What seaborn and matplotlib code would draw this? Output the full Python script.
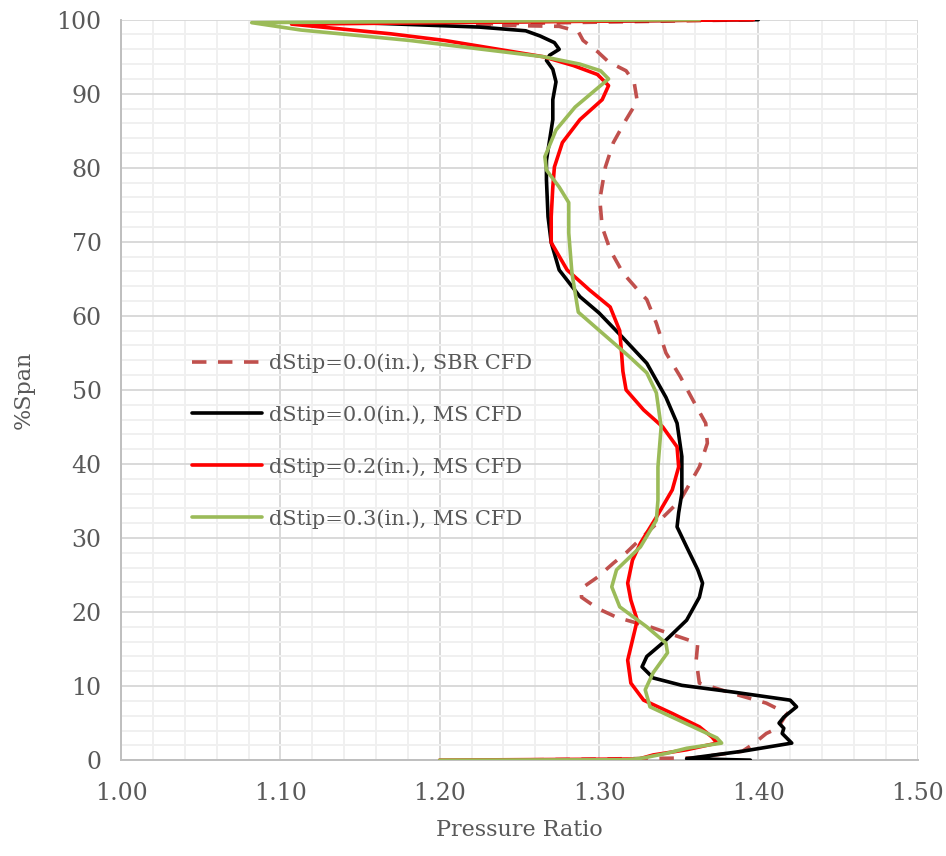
import numpy as np
import pandas as pd
import seaborn as sns
import matplotlib.pyplot as plt
from matplotlib.ticker import MultipleLocator

# Pressure ratio (x) vs %span (y)
sbr_x = [1.24, 1.36, 1.39, 1.397, 1.405, 1.412, 1.418, 1.405, 1.384, 1.363, 1.361, 1.362, 1.351,
         1.332, 1.311, 1.299, 1.289, 1.289, 1.299, 1.309, 1.317, 1.334, 1.351, 1.363, 1.368, 1.367,
         1.359, 1.351, 1.342, 1.336, 1.330, 1.326, 1.315, 1.307, 1.302, 1.3005, 1.304, 1.309, 1.317,
         1.324, 1.322, 1.317, 1.306, 1.299, 1.290, 1.287, 1.275, 1.248, 1.22, 1.40]
sbr_y = [0, 0.3, 1.2, 2.2, 3.6, 4.3, 6.3, 7.7, 9.0, 10.4, 13.5, 15.8, 16.6,
         18, 19.3, 20.5, 22, 23.2, 24.7, 26.6, 28, 31.5, 35.1, 39.6, 42.8, 45.5,
         48.6, 51.8, 55, 59, 62.2, 63.1, 65.8, 68.9, 72, 75.7, 80.1, 83.4, 86.5,
         89, 91.6, 93.1, 94.3, 95.7, 97.2, 98.4, 99.1, 99.2, 99.4, 100]

ms00_x = [1.395, 1.355, 1.39, 1.421, 1.415, 1.416, 1.413, 1.416, 1.424, 1.420, 1.384, 1.352, 1.334,
          1.327, 1.330, 1.342, 1.355, 1.363, 1.365, 1.362, 1.355, 1.349, 1.350, 1.352, 1.352, 1.349,
          1.342, 1.330, 1.313, 1.300, 1.288, 1.275, 1.270, 1.268, 1.267, 1.267, 1.271, 1.271, 1.273,
          1.271, 1.267, 1.269, 1.275, 1.272, 1.263, 1.254, 1.225, 1.15, 1.40]
ms00_y = [0, 0.2, 1.2, 2.3, 3.6, 4.3, 5.0, 5.8, 7.2, 8.1, 9.2, 10.1, 11.1,
          12.6, 14.0, 16.2, 18.9, 22, 23.9, 25.7, 28.8, 31.5, 33.4, 36, 41, 45.5,
          49, 53.6, 57.5, 60.4, 62.6, 66.2, 69.9, 73.4, 78.4, 81, 86.5, 89.2, 91.6,
          93.3, 94.5, 95.2, 96, 96.9, 97.8, 98.5, 99, 99.6, 100]

ms02_x = [1.20, 1.325, 1.334, 1.355, 1.374, 1.371, 1.363, 1.346, 1.328, 1.320, 1.318, 1.321, 1.324,
          1.320, 1.318, 1.321, 1.326, 1.336, 1.346, 1.350, 1.349, 1.340, 1.328, 1.317, 1.315, 1.314,
          1.313, 1.307, 1.294, 1.280, 1.270, 1.270, 1.271, 1.272, 1.277, 1.288, 1.302, 1.306, 1.299,
          1.284, 1.265, 1.203, 1.169, 1.107, 1.397]
ms02_y = [0, 0.15, 0.7, 1.4, 2.3, 3.1, 4.5, 6.3, 8.1, 10.4, 13.5, 16.2, 18.9,
          21.6, 23.9, 27, 29.3, 32.8, 36.5, 39.6, 42.3, 45, 47.3, 50, 52.5, 55.4,
          58, 61.2, 63.5, 66.2, 69.9, 73.4, 77.4, 80.1, 83.4, 86.5, 89.2, 91.1, 92.6,
          93.8, 95, 97.2, 98.1, 99.4, 100]

ms03_x = [1.20, 1.318, 1.328, 1.342, 1.355, 1.377, 1.374, 1.363, 1.346, 1.332, 1.329, 1.334, 1.343,
          1.342, 1.330, 1.313, 1.308, 1.311, 1.326, 1.336, 1.337, 1.337, 1.339, 1.336, 1.330, 1.319,
          1.303, 1.287, 1.283, 1.281, 1.281, 1.275, 1.267, 1.266, 1.273, 1.285, 1.301, 1.306, 1.301,
          1.288, 1.265, 1.181, 1.113, 1.082, 1.363]
ms03_y = [0, 0.05, 0.3, 0.9, 1.6, 2.3, 3.0, 4.1, 5.8, 7.2, 9.5, 11.8, 14.5,
          15.8, 18, 20.7, 23.4, 25.7, 28.8, 32.4, 35.1, 39.6, 45, 49.6, 52.3, 54.5,
          57.5, 60.5, 65.8, 71.2, 75.3, 77.4, 79.7, 81.5, 85.1, 88.2, 91.1, 92, 93.1,
          94, 95, 97.2, 98.6, 99.6, 100]

labels = ["dStip=0.0(in.), SBR CFD", "dStip=0.0(in.), MS CFD",
          "dStip=0.2(in.), MS CFD", "dStip=0.3(in.), MS CFD"]
colors = ["#c0504d", "black", "#ff0000", "#9bbb59"]
styles = [(0, (4, 3.2)), "-", "-", "-"]

series = [(sbr_x, sbr_y), (ms00_x, ms00_y), (ms02_x, ms02_y), (ms03_x, ms03_y)]

sns.set_style("white")
plt.rcParams['font.family'] = ['DejaVu Serif']
txt = "#595959"

fig, ax = plt.subplots(figsize=(9.46, 8.56), dpi=100)
fig.subplots_adjust(left=0.128, right=0.970, top=0.977, bottom=0.112)

for (xs, ys), lab, col, ls in zip(series, labels, colors, styles):
    df = pd.DataFrame({"Pressure Ratio": xs, "%Span": ys})
    sns.lineplot(data=df, x="Pressure Ratio", y="%Span", sort=False, estimator=None,
                 color=col, linewidth=2.6, linestyle=ls, label=lab, ax=ax, zorder=3,
                 solid_joinstyle="round", dash_joinstyle="round")

ax.set_xlim(1.0, 1.5)
ax.set_ylim(0, 100)
ax.xaxis.set_major_locator(MultipleLocator(0.1))
ax.xaxis.set_minor_locator(MultipleLocator(0.02))
ax.yaxis.set_major_locator(MultipleLocator(10))
ax.yaxis.set_minor_locator(MultipleLocator(2))
ax.set_xticks(np.arange(1.0, 1.51, 0.1))
ax.set_xticklabels([f"{v:.2f}" for v in np.arange(1.0, 1.51, 0.1)])

ax.grid(which="major", color="#d9d9d9", linewidth=1.4, zorder=0)
ax.grid(which="minor", color="#f0f0f0", linewidth=1.4, zorder=0)
ax.set_axisbelow(True)

for s in ["top", "right"]:
    ax.spines[s].set_visible(False)
for s in ["left", "bottom"]:
    ax.spines[s].set_color("#bfbfbf")
    ax.spines[s].set_linewidth(1.4)

ax.tick_params(which="both", length=0, colors=txt, labelsize=17)
ax.tick_params(axis="y", pad=14)
ax.tick_params(axis="x", pad=16)
ax.set_xlabel("Pressure Ratio", fontsize=16, color=txt, labelpad=10)
ax.set_ylabel("%Span", fontsize=16, color=txt, labelpad=16)

leg = ax.legend(loc="upper left", bbox_to_anchor=(0.065, 0.575), frameon=False,
                fontsize=15, handlelength=3.4, labelspacing=1.55, handletextpad=0.3)
for t in leg.get_texts():
    t.set_color(txt)

fig.savefig("out.png", dpi=100)
